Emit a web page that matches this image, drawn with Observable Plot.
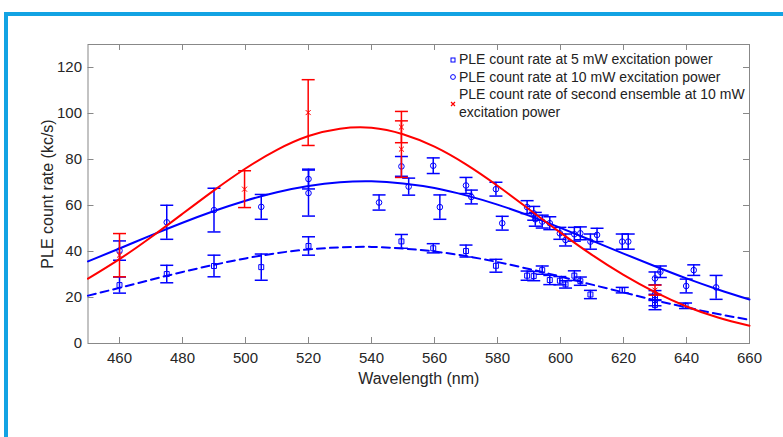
<!DOCTYPE html>
<html><head><meta charset="utf-8">
<script src="https://cdn.jsdelivr.net/npm/d3@7"></script>
<script src="https://cdn.jsdelivr.net/npm/@observablehq/plot@0.6"></script>
<style>
body{margin:0;background:#fff;}
#wrap{position:relative;width:783px;height:437px;overflow:hidden;font-family:"Liberation Sans",Arial,sans-serif;}
#frame{position:absolute;left:4px;top:12px;width:800px;height:460px;border-left:4px solid #12a3e3;border-top:4px solid #12a3e3;}
#chart{position:absolute;left:0;top:0;}
#legend{position:absolute;left:447px;top:51px;font-size:14px;line-height:17.6px;color:#222;white-space:nowrap;}
.row{display:flex;align-items:center;}
.row svg{width:12px;height:10px;flex:none;}
</style></head>
<body>
<div id="wrap"><div id="frame"></div><div id="chart"></div>
<div id="legend"></div></div>
<script>
// axis ticks
const xTicks = [460,480,500,520,540,560,580,600,620,640,660];
const yTicks = [0,20,40,60,80,100,120];

// fitted curves
const fitWl = [450,460,470,480,490,500,510,520,530,540,550,560,570,580,590,600,610,620,630,640,650,660];
const fitRed = [28.2,36.7,46.2,56.4,66.6,76.1,84.2,90.2,93.4,93.8,91.0,85.6,77.9,68.6,58.4,48.2,38.5,29.8,22.3,16.1,11.3,7.7];
const fitBlue10 = [35.7,41.3,47.0,52.5,57.6,62.1,65.8,68.5,70.1,70.5,69.6,67.6,64.4,60.4,55.6,50.3,44.7,39.1,33.6,28.3,23.5,19.1];
const fitBlue5 = [20.8,24.2,27.7,31.1,34.2,37.0,39.3,40.9,41.8,42.0,41.3,40.0,38.0,35.4,32.4,29.1,25.6,22.2,18.8,15.7,12.8,10.3];

// 5 mW
const wl5 = [460,475,490,505,520,549.5,559.6,570,579.5,589.4,591.5,594.2,596.6,599.8,601.6,604.4,606.3,609.5,619.6,630,630,630,639.7];
const rate5 = [25.4,30.2,33.7,33.2,42.4,44.4,41.4,40.2,33.8,29.5,29.3,31.9,27.6,27.3,25.7,29.5,27.1,21.3,23.2,21.0,18.9,16.7,16.4];
const err5 = [3.5,3.8,4.7,5.7,4.0,3.0,2.0,2.6,2.8,2.0,2.0,1.8,2.0,1.8,1.6,2.1,1.8,1.8,1.2,2.0,2.5,2.0,1.2];

// 10 mW
const wl10 = [460,475,490,505,520,520,542.4,549.5,551.8,559.6,561.7,570,571.7,579.5,581.5,589.4,591.5,592,594.2,596.6,599.8,601.6,604.4,606.3,609.5,611.6,619.6,621.5,630,631.7,639.9,642.3,649.4];
const rate10 = [40.4,52.7,58.0,59.4,71.5,65.4,61.3,77.0,68.2,77.3,59.3,68.7,63.7,67.1,52.3,59.3,56.6,54.0,53.0,52.3,47.9,45.0,47.5,47.9,44.3,47.2,44.3,44.3,28.3,31.2,25.0,31.9,24.4];
const err10 = [4.2,7.4,9.5,5.4,4.3,10.0,3.3,4.3,3.7,3.4,5.3,3.5,3.0,3.0,3.0,2.8,3.0,3.0,2.8,2.8,2.6,2.6,3.0,2.8,3.3,2.9,3.3,3.3,2.8,2.5,3.0,2.3,5.2];

// second ensemble 10 mW
const wlS = [460,499.7,519.9,549.5,549.5,630];
const rateS = [38.4,67.1,100.4,94.1,84.5,23.2];
const errS = [9.4,8.0,14.3,6.8,12.3,2.2];

const legendLabels = ["PLE count rate at 5 mW excitation power","PLE count rate at 10 mW excitation power","PLE count rate of second ensemble at 10 mW","excitation power"];

const rows = (xs, ys, es) => xs.map((x,i)=>({x, y: ys[i], lo: ys[i]-es[i], hi: ys[i]+es[i]}));
const fitRows = ys => fitWl.map((x,i)=>({x, y: ys[i]}));
const d5 = rows(wl5, rate5, err5), d10 = rows(wl10, rate10, err10), dS = rows(wlS, rateS, errS);

const cap = {draw(ctx, size){ const r = Math.sqrt(size/Math.PI); ctx.moveTo(-r,0); ctx.lineTo(r,0); }};
const BLUE = "#0000ff", RED = "#ff0000", AX = "#888";
const tickY = 2.6, tickX = 1.9;

function errMarks(data, color, symbol){
  return [
    Plot.ruleX(data, {x:"x", y1:"lo", y2:"hi", stroke: color, strokeWidth: 1.5}),
    Plot.dot(data, {x:"x", y:"lo", symbol: cap, r: 6.5, stroke: color, strokeWidth: 1.5}),
    Plot.dot(data, {x:"x", y:"hi", symbol: cap, r: 6.5, stroke: color, strokeWidth: 1.5}),
    Plot.dot(data, {x:"x", y:"y", symbol, r: symbol==="times" ? 2.4 : 2.8, stroke: color, fill: "none", strokeWidth: 1})
  ];
}

const chart = Plot.plot({
  width: 783, height: 437,
  marginLeft: 87.5, marginRight: 34, marginTop: 44, marginBottom: 94,
  x: {domain: [450, 660]},
  y: {domain: [0, 130]},
  style: {fontFamily: "'Liberation Sans', Arial, sans-serif", background: "transparent", color: "#222"},
  marks: [
    Plot.axisX(xTicks, {tickSize: 0, tickPadding: 9, fontSize: 15, label: null, fill: "#262626"}),
    Plot.axisY(yTicks, {tickSize: 0, tickPadding: 6, fontSize: 15, label: null, fill: "#262626"}),
    Plot.ruleX(xTicks, {x: d=>d, y1: 0, y2: tickY, stroke: AX}),
    Plot.ruleX(xTicks, {x: d=>d, y1: 130 - tickY, y2: 130, stroke: AX}),
    Plot.ruleY(yTicks.filter(d=>d>0), {y: d=>d, x1: 450, x2: 450 + tickX, stroke: AX}),
    Plot.ruleY(yTicks.filter(d=>d>0), {y: d=>d, x1: 660 - tickX, x2: 660, stroke: AX}),
    Plot.frame({stroke: AX}),
    ...errMarks(d5, BLUE, "square"),
    Plot.line(fitRows(fitBlue5), {x:"x", y:"y", curve:"natural", stroke: BLUE, strokeWidth: 2, strokeDasharray: "8,5"}),
    ...errMarks(d10, BLUE, "circle"),
    Plot.line(fitRows(fitBlue10), {x:"x", y:"y", curve:"natural", stroke: BLUE, strokeWidth: 2}),
    ...errMarks(dS, RED, "times"),
    Plot.line(fitRows(fitRed), {x:"x", y:"y", curve:"natural", stroke: RED, strokeWidth: 2}),
    Plot.text(["Wavelength (nm)"], {text: d=>d, frameAnchor: "bottom", lineAnchor: "middle", textAnchor: "middle", dy: 35, fontSize: 16, fill: "#262626"}),
    Plot.text(["PLE count rate (kc/s)"], {text: d=>d, frameAnchor: "left", lineAnchor: "middle", textAnchor: "middle", dx: -40, rotate: -90, fontSize: 16, fill: "#262626"})
  ]
});
document.getElementById("chart").appendChild(chart);

const mk = {
  square: `<svg viewBox="-6 -5 12 10"><rect x="-2" y="-2" width="4" height="4" fill="none" stroke="${BLUE}" stroke-width="1"/></svg>`,
  circle: `<svg viewBox="-6 -5 12 10"><circle r="2.4" fill="none" stroke="${BLUE}" stroke-width="1"/></svg>`,
  times: `<svg viewBox="-6 -5 12 10"><path d="M-2,-2L2,2M-2,2L2,-2" stroke="${RED}" stroke-width="1.2"/></svg>`
};
document.getElementById("legend").innerHTML =
  `<div class="row">${mk.square}<span>${legendLabels[0]}</span></div>` +
  `<div class="row">${mk.circle}<span>${legendLabels[1]}</span></div>` +
  `<div class="row">${mk.times}<span>${legendLabels[2]}<br>${legendLabels[3]}</span></div>`;
</script>
</body></html>
